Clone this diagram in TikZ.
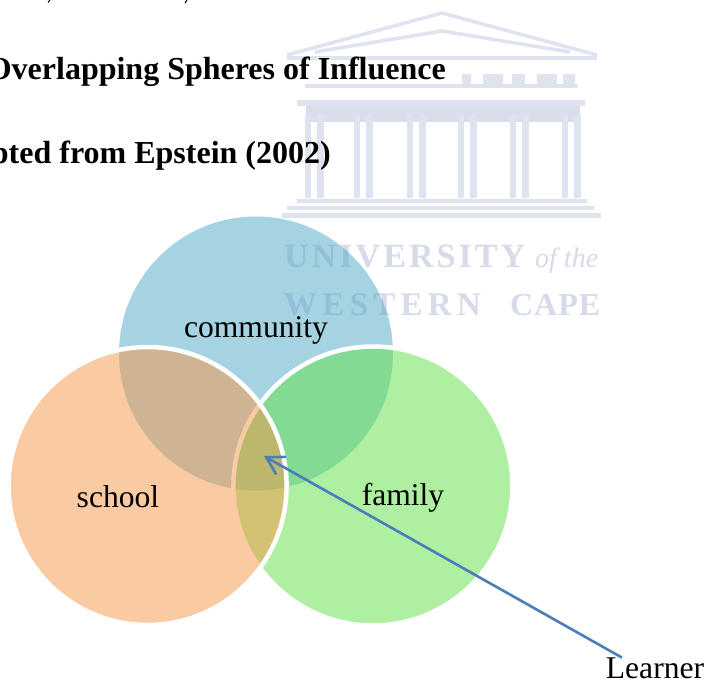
\documentclass[tikz,border=0pt]{standalone}
\usepackage{fontspec}
\setmainfont{Liberation Serif}
\newfontfamily\wmone[LetterSpace=9]{Liberation Serif}
\newfontfamily\wmtwo[LetterSpace=16]{Liberation Serif}
\newfontfamily\wmthree[LetterSpace=3]{Liberation Serif}
\usetikzlibrary{arrows.meta}
\definecolor{wm}{HTML}{DFE2EF}
\definecolor{wmd}{HTML}{DADDEC}
\definecolor{wmt}{HTML}{D6DAE9}
\definecolor{comm}{HTML}{4DA9C7}
\definecolor{fam}{HTML}{61E145}
\definecolor{sch}{HTML}{F79646}
\definecolor{arrowblue}{HTML}{4A7EBB}
\tikzset{
  sphere/.style={circle,inner sep=0pt,fill opacity=.5,minimum size=#1},
  label text/.style={font=\fontsize{31.6}{36}\selectfont,text=black,inner sep=0pt,anchor=base},
  title text/.style={font=\fontsize{32}{36}\selectfont\bfseries,text=black,inner sep=0pt,anchor=base east},
  wmline/.style={draw=wm,line width=3.5pt},
  wmtext/.style={text=wmt,inner sep=0pt,anchor=base west},
}
\begin{document}
\begin{tikzpicture}[x=1pt,y=-1pt]
\useasboundingbox (0,0) rectangle (706,682);
\fill[white] (0,0) rectangle (706,682);
% watermark
\draw[wmline,line join=round] (287,55) -- (442,13) -- (597,55);
\draw[wmline] (315,52) -- (442,31) -- (570,52);
\draw[wmline,line width=4.5pt] (287,58) -- (597,58);
\draw[wmline] (305,86) -- (578,86);
\foreach \a/\b in {462/471,483/503,512/525,537/557,563/575} \fill[wm] (\a,74) rectangle (\b,84);
\fill[wm] (297,100) rectangle (585,106);
\fill[wmd] (306,106) rectangle (580,122);
\foreach \x in {305,354,407,458,510,562}{
  \fill[wm] (\x,114) rectangle (\x+6,198);
  \fill[wm] (\x+12,114) rectangle (\x+19,198);
}
\draw[wmline] (297,201) -- (587,201);
\draw[wmline] (287,208) -- (594,208);
\draw[wmline,line width=5pt] (282,215) -- (601,215);
\node[wmtext,font=\fontsize{34}{40}\wmone\bfseries] at (284,267) {UNIVERSITY};
\node[wmtext,font=\fontsize{28}{30}\selectfont\itshape] at (535,267) {of the};
\node[wmtext,font=\fontsize{33}{40}\wmtwo\bfseries] at (284,315) {WESTERN};
\node[wmtext,font=\fontsize{32}{40}\wmthree\bfseries] at (510,315) {CAPE};
% cut-off marks of the line above
\draw[black,line width=1pt] (50,0) -- (48,2.5);
\draw[black,line width=1pt] (187,0) -- (185,3);
% titles
\node[title text] (t1) at (446,79.5) {Overlapping Spheres of Influence};
\node[title text] (t2) at (331,163) {pted from Epstein (2002)};
% spheres
\node[sphere=274pt,fill=comm] (community) at (256,353.5) {};
\node[sphere=279pt,fill=fam,draw=white,line width=4.5pt,draw opacity=1] (family) at (372.9,486) {};
\node[sphere=278pt,fill=sch,draw=white,line width=4.5pt,draw opacity=1] (school) at (147.6,486) {};
% labels
\node[label text] (lc) at (256,337) {community};
\node[label text] (ls) at (118,507) {school};
\node[label text] (lf) at (403,505) {family};
\node[label text] (learner) at (655,678.5) {Learner};
\coordinate (tip) at (264,456);
\draw[arrowblue,line width=2.6pt,-{Straight Barb[length=17pt,width=20pt,line width=2.6pt]}] ([xshift=-33pt]learner.north) -- (tip);
\end{tikzpicture}
\end{document}
